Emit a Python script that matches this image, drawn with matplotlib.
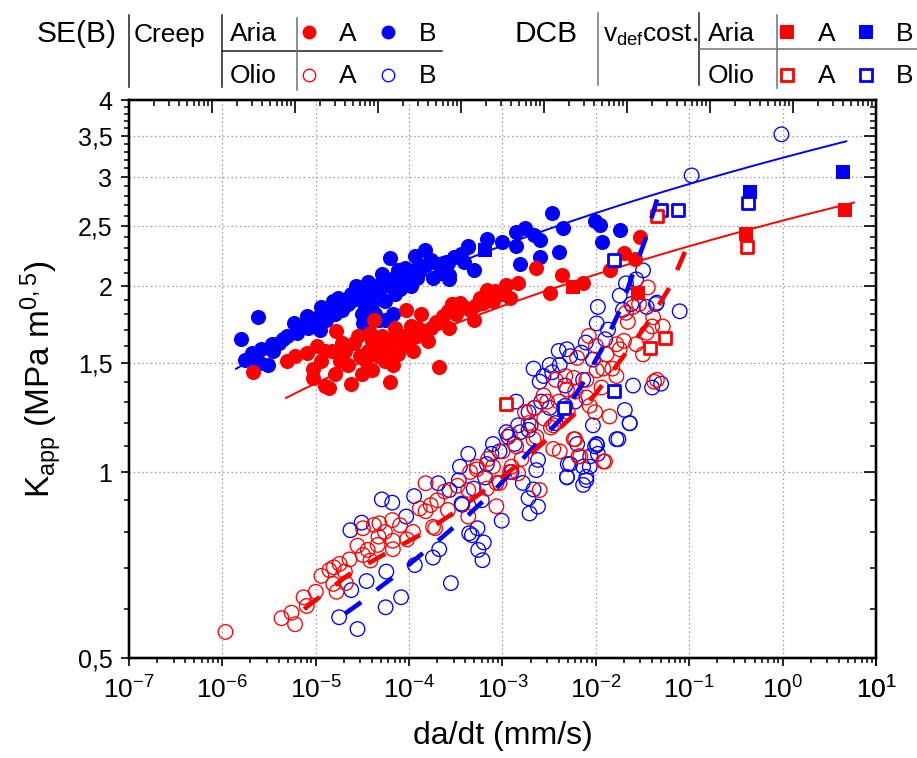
import numpy as np
import matplotlib
matplotlib.use("Agg")
import matplotlib.pyplot as plt
from matplotlib.ticker import FixedLocator, NullFormatter, LogLocator, FixedFormatter

# ---------------- data ----------------
# SE(B) creep, air (Aria), material A / B
aria_A_x = [2.15e-6, 4.9e-6, 6.0e-6, 8.0e-6, 1.02e-5, 1.66e-5, 9.3e-6, 9.3e-6, 1.26e-5, 1.5e-5,
            1.26e-5, 1.6e-5, 1.8e-5, 2.4e-5, 2.2e-5, 2.85e-5, 3.1e-5, 3.4e-5, 4.0e-5, 4.2e-5,
            4.3e-5, 5.1e-5, 5.5e-5, 6.2e-5, 7.0e-5, 7.6e-5, 9.3e-5, 1.0e-4, 1.35e-4, 1.25e-4,
            1.6e-4, 1.95e-4, 2.1e-4, 2.6e-4, 2.85e-4, 1.4e-5, 1.15e-5, 2.05e-5, 3.6e-5, 6.4e-5,
            9.0e-5, 1.1e-4, 1.7e-4, 2.6e-5, 3.8e-5, 4.6e-5, 5.8e-5, 8.2e-5, 1.2e-4, 1.9e-5,
            6.7e-5, 3.0e-5, 4.0e-5, 1.45e-4, 2.3e-4, 3.2e-4, 3.9e-4, 5.2e-4, 1.05e-4,
            2.3e-3, 4.3e-3, 7.3e-3, 3.2e-3, 1.1e-3, 1.47e-3, 6.8e-4, 8.3e-4, 9.8e-4, 5.7e-4,
            6.2e-4, 7.9e-4, 2.9e-4, 3.5e-4, 2.7e-4, 4.9e-4, 4.5e-4, 2.7e-4, 2.1e-4, 1.2e-3,
            1.4e-2, 2.0e-2, 2.6e-2, 3.0e-2]
aria_A_y = [1.45, 1.51, 1.54, 1.56, 1.60, 1.69, 1.47, 1.42, 1.57, 1.57,
            1.38, 1.44, 1.51, 1.39, 1.49, 1.66, 1.44, 1.52, 1.46, 1.76,
            1.60, 1.66, 1.51, 1.40, 1.71, 1.55, 1.83, 1.60, 1.80, 1.71,
            1.63, 1.75, 1.48, 1.82, 1.87, 1.37, 1.51, 1.57, 1.57, 1.64,
            1.66, 1.57, 1.71, 1.62, 1.68, 1.54, 1.58, 1.62, 1.66, 1.62,
            1.49, 1.54, 1.63, 1.69, 1.79, 1.80, 1.85, 1.86, 1.72,
            2.14, 2.08, 2.02, 1.95, 2.01, 2.02, 1.97, 1.96, 1.94, 1.91,
            1.88, 1.89, 1.87, 1.88, 1.82, 1.76, 1.83, 1.71, 1.75, 1.91,
            2.12, 2.26, 2.21, 2.40]

aria_B_x = [2.4e-6, 1.6e-6, 1.75e-6, 2.1e-6, 2.6e-6, 3.1e-6, 2.5e-6, 3.4e-6, 4.0e-6, 4.9e-6,
            5.8e-6, 6.3e-6, 8.0e-6, 8.3e-6, 9.4e-6, 1.15e-5, 1.07e-5, 1.26e-5, 1.54e-5, 1.74e-5,
            1.9e-5, 2.2e-5, 2.4e-5, 2.7e-5, 2.85e-5, 3.1e-5, 3.2e-5, 3.6e-5, 4.0e-5, 4.7e-5,
            5.1e-5, 5.5e-5, 6.0e-5, 6.2e-5, 7.0e-5, 7.6e-5, 9.0e-5, 9.3e-5, 1.15e-4, 1.2e-4,
            1.47e-4, 1.5e-4, 1.8e-4, 2.05e-4, 2.6e-4, 2.7e-4, 5.5e-5, 4.8e-5,
            3.0e-5, 4.4e-5, 3.8e-5, 2.0e-5, 6.5e-5, 8.5e-5, 1.0e-4, 1.3e-4, 1.7e-4, 2.2e-4,
            1.4e-5, 9.0e-6, 7.0e-6, 4.5e-6, 2.2e-6, 3.5e-6, 6.8e-5, 1.1e-5, 1.3e-5, 1.6e-5,
            3.4e-5, 4.3e-5, 8.0e-5, 1.05e-4, 1.25e-4,
            3.4e-3, 1.4e-3, 1.75e-3, 2.15e-3, 2.5e-3, 4.5e-3, 9.8e-3, 1.1e-2, 1.8e-2, 1.15e-2,
            4.0e-3, 2.5e-3, 1.55e-3, 1.4e-3, 1.0e-3, 6.8e-4, 4.3e-4, 4.9e-4, 2.7e-4, 3.0e-4,
            3.6e-4, 2.3e-4, 2.5e-4, 3.5e-4, 4.3e-4, 3.9e-4]
aria_B_y = [1.78, 1.64, 1.52, 1.56, 1.58, 1.49, 1.50, 1.61, 1.62, 1.66,
            1.74, 1.68, 1.79, 1.71, 1.74, 1.85, 1.78, 1.80, 1.89, 1.91,
            1.83, 1.87, 1.94, 2.00, 1.91, 1.80, 1.74, 2.03, 1.87, 1.96,
            2.09, 1.89, 2.01, 2.22, 1.94, 2.12, 2.14, 2.02, 2.24, 2.06,
            2.29, 2.16, 2.06, 2.17, 2.18, 2.05, 1.76, 1.76,
            1.97, 2.00, 1.93, 1.90, 2.05, 2.08, 2.10, 2.12, 2.20, 2.10,
            1.84, 1.77, 1.72, 1.64, 1.53, 1.57, 1.80, 1.70, 1.76, 1.80,
            1.85, 1.80, 1.98, 2.00, 2.15,
            2.63, 2.45, 2.48, 2.42, 2.37, 2.48, 2.55, 2.51, 2.46, 2.36,
            2.27, 2.23, 2.17, 2.32, 2.36, 2.38, 2.32, 2.12, 2.08, 2.23,
            2.25, 2.18, 2.19, 2.24, 2.31, 2.19]

# SE(B) creep, oil (Olio), material A / B
olio_A_x = [1.08e-6, 4.3e-6, 5.5e-6, 6.0e-6, 7.4e-6, 8.0e-6, 1.15e-5, 1.56e-5, 1.54e-5, 1.67e-5,
            2.05e-5, 2.1e-5, 2.3e-5, 3.2e-5, 3.6e-5, 3.85e-5, 3.2e-5, 4.2e-5, 4.8e-5, 4.7e-5,
            4.6e-5, 6.6e-5, 6.7e-5, 6.7e-5, 9.5e-5, 1.3e-4, 1.5e-4, 1.7e-4, 1.9e-4, 1.5e-4,
            2.6e-4, 4.3e-4, 4.3e-4, 1.4e-5,
            8.6e-4, 1.47e-3, 9.3e-4, 6.8e-4, 5.3e-4, 1.8e-4, 2.15e-3, 1.25e-3, 3.5e-3, 6.8e-3,
            6.0e-3, 1.25e-2, 2.5e-3,
            8.4e-3, 1.66e-2, 2.0e-2, 1.8e-2, 2.7e-2, 2.5e-2, 2.9e-2, 5.2e-2, 6.3e-3, 5.8e-3,
            4.9e-3, 7.9e-3, 1.02e-2, 1.2e-2, 1.5e-2, 1.66e-2, 1.15e-2, 1.4e-2, 9.8e-3, 8.6e-3,
            7.9e-3, 4.2e-2, 2.75e-3, 3.7e-3, 4.7e-3, 1.74e-3, 2.3e-3, 3.5e-3, 5.8e-3, 6.5e-3,
            1.2e-2, 4.1e-3, 3.3e-3, 1.4e-3, 1.2e-3, 1.6e-3, 7.9e-4, 8.6e-4, 5.3e-4, 4.5e-4,
            4.5e-2, 4.0e-2,
            2.2e-3, 3.0e-3, 1.0e-3, 7.0e-4, 2.0e-4, 1.1e-4, 8.0e-5, 5.5e-5, 2.8e-5, 1.8e-5,
            1.0e-5, 3.3e-4, 2.4e-4, 1.2e-3, 1.9e-3, 2.8e-3, 5.0e-3, 1.3e-2, 2.2e-2, 3.2e-2,
            3.5e-2, 1.0e-2, 6.0e-3, 4.0e-3, 3.6e-2, 2.1e-2, 4.1e-2]
olio_A_y = [0.551, 0.580, 0.592, 0.567, 0.627, 0.607, 0.679, 0.701, 0.659, 0.640,
            0.690, 0.661, 0.722, 0.734, 0.748, 0.719, 0.811, 0.821, 0.826, 0.786,
            0.762, 0.836, 0.774, 0.750, 0.778, 0.873, 0.864, 0.884, 0.811, 0.959,
            0.868, 0.935, 0.847, 0.694,
            0.88, 0.995, 0.96, 0.94, 1.01, 0.815, 1.13, 1.02, 1.09, 1.06,
            1.13, 1.04, 0.935,
            1.66, 1.61, 1.63, 1.58, 1.61, 1.85, 1.87, 1.72, 1.53, 1.42,
            1.36, 1.41, 1.46, 1.47, 1.47, 1.43, 1.37, 1.23, 1.25, 1.28,
            1.32, 1.40, 1.33, 1.41, 1.43, 1.25, 1.14, 1.19, 1.13, 1.06,
            1.04, 1.08, 1.18, 1.10, 1.00, 1.05, 1.02, 0.96, 1.02, 1.00,
            1.41, 1.72,
            1.27, 1.30, 1.08, 1.05, 0.90, 0.80, 0.82, 0.80, 0.76, 0.71,
            0.64, 0.95, 0.93, 1.15, 1.20, 1.22, 1.25, 1.55, 1.75, 1.55,
            1.68, 1.60, 1.35, 1.30, 1.99, 1.81, 1.78]

olio_B_x = [1.78e-5, 2.8e-5, 5.6e-5, 8.2e-5, 2.4e-5, 3.5e-5, 5.7e-5, 2.35e-5, 3.1e-5, 5.1e-5,
            6.6e-5, 9.3e-5, 1.15e-4, 1.8e-4, 2.1e-4, 2.8e-4, 1.13e-4, 2.05e-4, 2.7e-4, 3.4e-4,
            3.65e-4, 4.4e-4,
            6.1e-4, 6.3e-4, 5.4e-4, 4.7e-4, 9.8e-4, 1.95e-3, 2.4e-3, 1.9e-3, 2.15e-3, 2.3e-3,
            2.4e-3, 4.9e-3, 7.3e-3, 7.9e-3, 8.6e-3, 1.03e-2, 1.74e-2, 2.3e-2, 2.04e-2, 1.05e-2,
            5.0e-3, 4.3e-4, 3.7e-4, 6.8e-4, 7.6e-4, 9.3e-4, 1.15e-3, 1.35e-3, 1.55e-3, 1.9e-3,
            6.0e-4, 4.9e-4, 6.5e-4, 1.25e-3, 1.65e-3, 5.5e-4,
            1.05e-2, 1.02e-2, 1.35e-2, 4.4e-2, 7.9e-2, 7.8e-3, 1.26e-2, 9.3e-3, 5.3e-3, 4.1e-3,
            3.2e-3, 2.75e-3, 4.7e-3, 7.3e-3, 2.5e-2, 4.0e-2, 5.0e-2, 2.3e-2, 1.66e-2, 1.02e-2,
            8.7e-3, 7.3e-3, 7.9e-3, 5.3e-3, 4.9e-3, 3.2e-3, 2.6e-3, 1.9e-3, 1.47e-3, 1.1e-3,
            7.9e-4, 3.5e-4, 2.0e-3, 2.5e-3, 3.4e-3, 4.0e-3, 4.9e-3, 7.0e-3, 1.95e-2, 2.4e-2,
            3.5e-2, 2.15e-3, 1.4e-3, 2.2e-3, 4.7e-3, 6.0e-3, 3.7e-3, 9.3e-3, 9.8e-3, 6.3e-3,
            0.106, 0.97, 3.2e-2, 2.1e-2, 1.8e-2, 4.5e-2, 2.7e-2]
olio_B_y = [0.582, 0.557, 0.604, 0.627, 0.644, 0.666, 0.690, 0.805, 0.828, 0.903,
            0.892, 0.847, 0.707, 0.727, 0.750, 0.661, 0.914, 0.959, 0.935, 0.97,
            0.889, 0.796,
            0.720, 0.769, 0.811, 0.790, 0.834, 0.857, 0.879, 0.907, 0.937, 1.007,
            1.046, 0.982, 0.953, 0.982, 1.02, 1.106, 1.13, 1.199, 1.26, 1.07,
            1.03, 1.07, 0.885, 1.03, 1.07, 1.08, 1.14, 1.11, 1.16, 1.17,
            0.90, 0.94, 0.98, 1.00, 0.96, 0.748,
            1.85, 1.74, 1.70, 1.87, 1.82, 1.62, 1.64, 1.52, 1.54, 1.49,
            1.49, 1.43, 1.38, 1.41, 1.38, 1.37, 1.39, 1.20, 1.13, 1.11,
            1.06, 1.02, 0.97, 1.03, 0.98, 1.27, 1.30, 1.25, 1.19, 1.16,
            1.11, 1.02, 1.19, 1.40, 1.45, 1.57, 1.58, 1.56, 1.83, 1.87,
            1.85, 1.47, 1.30, 1.27, 1.28, 1.30, 1.20, 1.19, 1.10, 1.11,
            3.02, 3.52, 2.12, 2.02, 1.93, 1.88, 2.05]

# DCB, constant deformation rate
dcb_aria_A_x = [5.7e-3, 2.85e-2, 0.41, 4.6]
dcb_aria_A_y = [1.99, 1.95, 2.43, 2.65]
dcb_aria_B_x = [6.5e-4, 0.446, 4.4]
dcb_aria_B_y = [2.29, 2.84, 3.06]
dcb_olio_A_x = [4.5e-2, 0.42, 3.8e-2, 5.5e-2, 1.1e-3]
dcb_olio_A_y = [2.60, 2.31, 1.59, 1.65, 1.29]
dcb_olio_B_x = [1.55e-2, 0.43, 5.0e-2, 7.5e-2, 1.55e-2, 4.6e-3]
dcb_olio_B_y = [2.20, 2.73, 2.65, 2.65, 1.35, 1.27]

# Fits in air: K = a + b*log10(da/dt)
fit_aria_A = dict(a=2.552, b=0.232, xmin=4.8e-6, xmax=5.8)
fit_aria_B = dict(a=3.225, b=0.300, xmin=1.4e-6, xmax=4.8)

# Fit curves in oil
fit_olio_A_x = [7.5e-6, 2.21e-5, 5.24e-5, 1.31e-4, 3.09e-4, 7.14e-4, 1.74e-3, 4.12e-3,
                9.75e-3, 1.95e-2, 3.6e-2, 6.19e-2, 9.66e-2]
fit_olio_A_y = [0.600, 0.681, 0.734, 0.791, 0.861, 0.945, 1.049, 1.178,
                1.333, 1.535, 1.742, 1.992, 2.329]
fit_olio_B_x = [2.06e-5, 3.13e-5, 5.08e-5, 7.46e-5, 1.2e-4, 1.81e-4, 2.92e-4, 4.3e-4,
                8.3e-4, 1.87e-3, 4.12e-3, 7.26e-3, 1.19e-2, 1.81e-2, 3.35e-2, 4.61e-2]
fit_olio_B_y = [0.590, 0.617, 0.654, 0.683, 0.725, 0.762, 0.811, 0.852,
                0.935, 1.073, 1.214, 1.393, 1.592, 1.828, 2.37, 2.79]

y_major = [0.5, 1.0, 1.5, 2.0, 2.5, 3.0, 3.5, 4.0]
y_major_labels = ["0,5", "1", "1,5", "2", "2,5", "3", "3,5", "4"]
x_decades = list(range(-7, 2))

RED = "#ff0000"
BLUE = "#0000ff"

# ---------------- fonts ----------------
plt.rcParams['font.family'] = ['Liberation Sans', 'DejaVu Sans']
plt.rcParams['mathtext.fontset'] = 'custom'
plt.rcParams['mathtext.rm'] = 'Liberation Sans'
plt.rcParams['mathtext.it'] = 'Liberation Sans:italic'
plt.rcParams['mathtext.bf'] = 'Liberation Sans:bold'

W, H = 917, 758
fig = plt.figure(figsize=(W / 100, H / 100), dpi=100)
L, R, T, B = 129, 876, 100, 658
ax = fig.add_axes([L / W, 1 - B / H, (R - L) / W, (B - T) / H])
ax.set_xscale('log')
ax.set_yscale('log')
ax.set_xlim(1e-7, 10)
ax.set_ylim(0.5, 4)

# grid
grid_kw = dict(color='#9a9a9a', lw=0.9, ls=(0, (1.2, 2.2)), zorder=0.5)
for d in x_decades[1:]:
    ax.axvline(10.0 ** d, **grid_kw)
for yv in y_major[1:-1]:
    ax.axhline(yv, **grid_kw)

# fits in air (solid)
for fit, col in ((fit_aria_B, BLUE), (fit_aria_A, RED)):
    xs = np.logspace(np.log10(fit['xmin']), np.log10(fit['xmax']), 200)
    ax.plot(xs, fit['a'] + fit['b'] * np.log10(xs), color=col, lw=1.4, zorder=2.5)

# oil data (open circles)
ax.scatter(olio_B_x, olio_B_y, s=110, facecolors='none', edgecolors=BLUE, linewidths=0.95, zorder=2)
ax.scatter(olio_A_x, olio_A_y, s=110, facecolors='none', edgecolors=RED, linewidths=0.95, zorder=2.1)

# air data (filled circles)
ax.scatter(aria_B_x, aria_B_y, s=118, color=BLUE, linewidths=0, zorder=3)
ax.scatter(aria_A_x, aria_A_y, s=118, color=RED, linewidths=0, zorder=3.1)

# DCB squares
ax.scatter(dcb_aria_A_x, dcb_aria_A_y, marker='s', s=100, color=RED, linewidths=0, zorder=4)
ax.scatter(dcb_aria_B_x, dcb_aria_B_y, marker='s', s=100, color=BLUE, linewidths=0, zorder=4)
ax.scatter(dcb_olio_A_x, dcb_olio_A_y, marker='s', s=78, facecolors='white', edgecolors=RED,
           linewidths=2.0, zorder=4.2)
ax.scatter(dcb_olio_B_x, dcb_olio_B_y, marker='s', s=78, facecolors='white', edgecolors=BLUE,
           linewidths=2.0, zorder=4.1)

# fits in oil (dashed)
ax.plot(fit_olio_B_x, fit_olio_B_y, color=BLUE, lw=3.3, dashes=(4.3, 4.3), zorder=6,
        dash_capstyle='butt')
ax.plot(fit_olio_A_x, fit_olio_A_y, color=RED, lw=3.3, dashes=(4.3, 4.3), zorder=6,
        dash_capstyle='butt')

# ticks: bottom / left outward with labels
ax.xaxis.set_major_locator(FixedLocator([10.0 ** d for d in x_decades + [1]]))
ax.xaxis.set_major_formatter(FixedFormatter([r'$\mathregular{10^{%d}}$' % d for d in x_decades + [1]]))
ax.xaxis.set_minor_locator(LogLocator(base=10, subs=np.arange(2, 10)))
ax.xaxis.set_minor_formatter(NullFormatter())
ax.yaxis.set_major_locator(FixedLocator(y_major))
ax.yaxis.set_major_formatter(FixedFormatter(y_major_labels))
y_minor = [round(v, 1) for v in np.arange(0.6, 4.0, 0.1) if round(v, 1) not in y_major]
ax.yaxis.set_minor_locator(FixedLocator(y_minor))
ax.yaxis.set_minor_formatter(NullFormatter())
ax.tick_params(which='major', direction='out', length=6, width=1.2, top=False, right=False, pad=6)
ax.tick_params(axis='x', which='major', labelsize=19, pad=7)
ax.tick_params(axis='y', which='major', labelsize=18)
ax.tick_params(which='minor', direction='out', length=3.5, width=1.1, top=False, right=False)
for sp in ax.spines.values():
    sp.set_linewidth(1.6)

# top axis (inward ticks, spans nine decades) and right axis (inward ticks)
axt = ax.twiny()
axt.set_xscale('log')
axt.set_xlim(1e-7, 1e2)
axt.xaxis.set_major_locator(LogLocator(base=10, numticks=20))
axt.xaxis.set_minor_locator(LogLocator(base=10, subs=np.arange(2, 10), numticks=20))
axt.tick_params(axis='x', which='major', direction='in', length=9, width=1.2, labeltop=False)
axt.tick_params(axis='x', which='minor', direction='in', length=4.5, width=1.1)
axt.xaxis.set_major_formatter(NullFormatter())
axt.xaxis.set_minor_formatter(NullFormatter())
axr = ax.twinx()
axr.set_yscale('log')
axr.set_ylim(0.5, 4)
axr.yaxis.set_major_locator(FixedLocator(y_major))
axr.yaxis.set_minor_locator(FixedLocator(y_minor))
axr.yaxis.set_major_formatter(NullFormatter())
axr.yaxis.set_minor_formatter(NullFormatter())
axr.tick_params(axis='y', which='major', direction='in', length=9, width=1.2)
axr.tick_params(axis='y', which='minor', direction='in', length=4, width=1.1)
for a in (axt, axr):
    for sp in a.spines.values():
        sp.set_linewidth(1.6)

ax.set_xlabel('da/dt (mm/s)', fontsize=23, labelpad=13)
ax.set_ylabel(r'K$_{\mathregular{app}}$ (MPa m$^{\mathregular{0,5}}$)', fontsize=24, labelpad=10)

# ---------------- legend table ----------------
lg = fig.add_axes([0, 0, 1, 1], zorder=10)
lg.set_xlim(0, W)
lg.set_ylim(H, 0)
lg.axis('off')
dark, grey = '#202020', '#707070'
for (x0, y0, x1, y1, c) in [(129, 15, 129, 87, dark), (222, 15, 222, 87, dark),
                            (222, 51, 442, 51, dark), (297, 18, 297, 90, grey),
                            (598, 13, 598, 85, grey), (699, 13, 699, 85, dark),
                            (699, 49, 917, 49, grey), (777, 15, 777, 88, grey)]:
    lg.plot([x0, x1], [y0, y1], color=c, lw=1.1)

big, mid = 21.5, 19
lg.text(117, 42, 'SE(B)', fontsize=big, ha='right', va='baseline')
lg.text(134, 42, 'Creep', fontsize=mid, ha='left', va='baseline')
lg.text(578, 42, 'DCB', fontsize=big, ha='right', va='baseline')
lg.text(603, 42, r'v$_{\mathregular{def}}$cost.', fontsize=mid, ha='left', va='baseline')
for xl in (230, 708):
    lg.text(xl, 41, 'Aria', fontsize=mid, ha='left', va='baseline')
    lg.text(xl, 83, 'Olio', fontsize=mid, ha='left', va='baseline')
for xa, xb in ((348, 428), (827, 905)):
    for yb in (41, 83):
        lg.text(xa, yb, 'A', fontsize=mid, ha='center', va='baseline')
        lg.text(xb, yb, 'B', fontsize=mid, ha='center', va='baseline')

lg.plot([309], [32], 'o', ms=10, color=RED, mew=0)
lg.plot([388], [32], 'o', ms=10, color=BLUE, mew=0)
lg.plot([309], [75], 'o', ms=9, mfc='none', mec=RED, mew=0.95)
lg.plot([388], [75], 'o', ms=9, mfc='none', mec=BLUE, mew=0.95)
lg.plot([787], [32], 's', ms=10, color=RED, mew=0)
lg.plot([866], [32], 's', ms=10, color=BLUE, mew=0)
lg.plot([787], [75], 's', ms=8.8, mfc='white', mec=RED, mew=2.0)
lg.plot([866], [75], 's', ms=8.8, mfc='white', mec=BLUE, mew=2.0)

fig.savefig('out.png', dpi=100)
